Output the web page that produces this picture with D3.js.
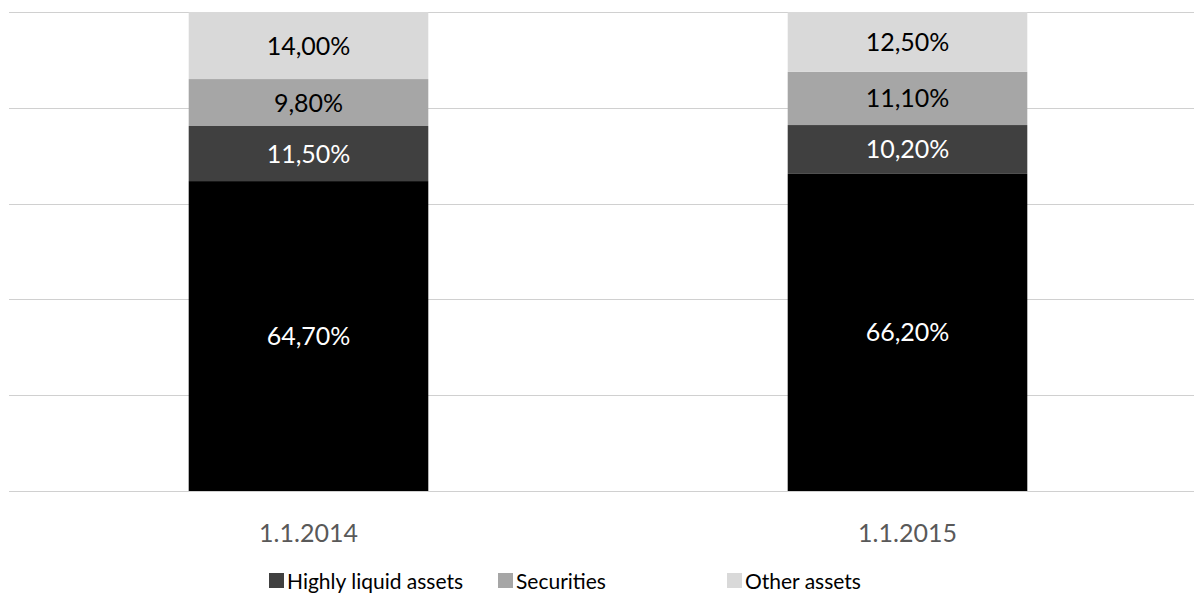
<!DOCTYPE html>
<html lang="en">
<head>
  <meta charset="UTF-8">
  <title>Assets structure</title>
</head>
<body>
<style>
  * {
    padding: 0;
    margin: 0;
  }

  #app {
    width: 1194px;
    height: 593px;
    background: #fff;
  }

  #app svg {
    display: block;
    font-family: Lato, "Open Sans", sans-serif;
  }
</style>

<div id="app"></div>

<script src="https://cdn.jsdelivr.net/npm/d3@7/dist/d3.min.js"></script>
<script>
  // data
  var categories = ['1.1.2014', '1.1.2015'];
  var seriesNames = ['', 'Highly liquid assets', 'Securities', 'Other assets'];
  var seriesColors = ['#000000', '#404040', '#a6a6a6', '#d9d9d9'];
  var labelColors = ['#fff', '#fff', '#000', '#000'];
  var values = [
    [64.7, 66.2],   // bottom (black) series, no legend entry
    [11.5, 10.2],   // Highly liquid assets
    [9.8, 11.1],    // Securities
    [14.0, 12.5]    // Other assets
  ];
  var yTicks = [0, 20, 40, 60, 80, 100];

  function drawChart() {
    var width = 1194, height = 593;
    var svg = d3.select('#app').append('svg')
      .attr('width', width).attr('height', height);

    var x = d3.scaleBand().domain(categories).range([9, 1207]).paddingInner(0.6).paddingOuter(0.3);
    var y = d3.scaleLinear().domain([0, 100]).range([491, 12]);

    // gridlines
    svg.append('g').selectAll('line').data(yTicks).join('line')
      .attr('x1', 9).attr('x2', 1194)
      .attr('y1', d => Math.round(y(d)) + 0.5).attr('y2', d => Math.round(y(d)) + 0.5)
      .attr('stroke', '#d0d0d0').attr('stroke-width', 1);

    // build stacked table
    var rows = categories.map(function (c, i) {
      var r = {cat: c};
      values.forEach(function (v, s) { r['s' + s] = v[i]; });
      return r;
    });
    var stack = d3.stack().keys(values.map((v, s) => 's' + s))(rows);

    var layers = svg.append('g').selectAll('g').data(stack).join('g')
      .attr('fill', (d, i) => seriesColors[i]);

    layers.selectAll('rect').data(d => d).join('rect')
      .attr('x', d => x(d.data.cat))
      .attr('width', x.bandwidth())
      .attr('y', d => y(d[1]))
      .attr('height', d => y(d[0]) - y(d[1]));

    // value labels
    var fmt = d => d.toFixed(2).replace('.', ',') + '%';
    layers.selectAll('text').data((d, i) => d.map(p => ({p: p, s: i}))).join('text')
      .attr('x', d => x(d.p.data.cat) + x.bandwidth() / 2)
      .attr('y', d => (y(d.p[0]) + y(d.p[1])) / 2)
      .attr('dy', '0.36em')
      .attr('text-anchor', 'middle')
      .attr('font-size', 25)
      .attr('fill', d => labelColors[d.s])
      .text(d => fmt(d.p[1] - d.p[0]));

    // category axis labels
    svg.append('g').selectAll('text').data(categories).join('text')
      .attr('x', d => x(d) + x.bandwidth() / 2)
      .attr('y', 542)
      .attr('text-anchor', 'middle')
      .attr('font-size', 25)
      .attr('fill', '#595959')
      .text(d => d);

    // legend (series 1..3 only)
    var legendX = [269, 498, 727];
    var legend = svg.append('g').selectAll('g').data([1, 2, 3]).join('g')
      .attr('transform', (d, i) => 'translate(' + legendX[i] + ',589)');
    legend.append('rect')
      .attr('x', 0).attr('y', -16).attr('width', 15).attr('height', 15)
      .attr('fill', d => seriesColors[d]);
    legend.append('text')
      .attr('x', 18)
      .attr('font-size', 21)
      .attr('fill', '#000')
      .text(d => seriesNames[d]);
  }

  drawChart();
</script>
</body>
</html>
